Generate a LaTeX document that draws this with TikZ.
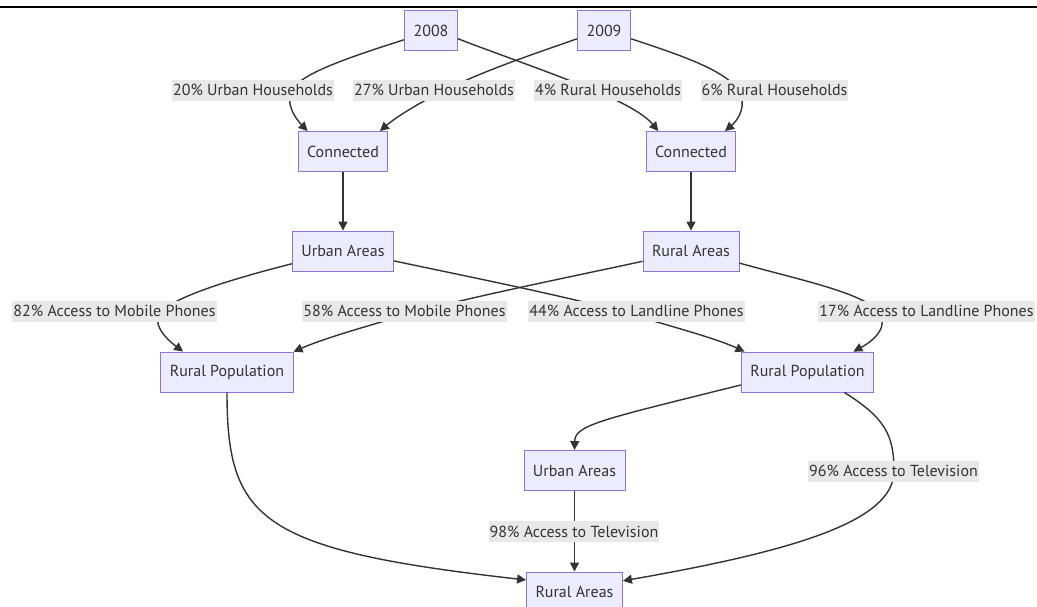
\documentclass[tikz,border=0pt]{standalone}
\usepackage{fontspec}
\setmainfont{PT Sans}
\usetikzlibrary{arrows.meta}
\definecolor{boxfill}{HTML}{ECECFF}
\definecolor{boxline}{HTML}{9370DB}
\definecolor{edgeclr}{HTML}{333333}
\definecolor{lblfill}{HTML}{E8E8E8}
\begin{document}
\begin{tikzpicture}[x=1pt,y=-1pt,>={Triangle[length=9pt,width=9pt]},
  box/.style={draw=boxline,fill=boxfill,line width=0.9pt,text=edgeclr,
    minimum height=40pt,inner xsep=9pt,font=\fontsize{16}{19}\selectfont},
  lbl/.style={fill=lblfill,text=edgeclr,inner xsep=1pt,inner ysep=0pt,
    minimum height=21pt,font=\fontsize{16}{19}\selectfont},
  link/.style={->,draw=edgeclr,line width=1.4pt}]
   \useasboundingbox (0,0) rectangle (1037,606);
   \draw[line width=1.7pt] (0,7) -- (1037,7);

   \node[box] (y2008) at (431,30.5)  {2008};
   \node[box] (y2009) at (604,30.5)  {2009};
   \node[box] (con1)  at (343,151.5) {Connected};
   \node[box] (con2)  at (691,151.5) {Connected};
   \node[box] (urb1)  at (343,251)   {Urban Areas};
   \node[box] (rur1)  at (691,251)   {Rural Areas};
   \node[box] (pop1)  at (227,372)   {Rural Population};
   \node[box] (pop2)  at (807.5,372) {Rural Population};
   \node[box] (urb2)  at (574.5,470.5) {Urban Areas};
   \node[box] (rur2)  at (574.5,592) {Rural Areas};

   \draw[link] (y2008.199) .. controls (340,60) and (300,75) .. (292,90)
     .. controls (285,103) and (295,118) .. (con1.150);
   \draw[link] (y2008.343) .. controls (500,55) and (550,72) .. (593,90)
     .. controls (625,103) and (645,115) .. (con2.148);
   \draw[link] (y2009.197) .. controls (540,52) and (490,68) .. (445,90)
     .. controls (415,105) and (395,118) .. (con1.29);
   \draw[link] (y2009.343) .. controls (680,55) and (725,70) .. (738,90)
     .. controls (748,105) and (738,120) .. (con2.31);
   \draw[link] (con1) -- (urb1);
   \draw[link] (con2) -- (rur1);
   \draw[link] (urb1.194) .. controls (220,282) and (175,298) .. (162,311)
     .. controls (150,322) and (165,338) .. (pop1.155);
   \draw[link] (urb1.349) .. controls (470,277) and (560,295) .. (619,311)
     .. controls (670,326) and (715,338) .. (pop2.162);
   \draw[link] (rur1.192) .. controls (570,277) and (480,295) .. (420,311)
     .. controls (370,325) and (325,338) .. (pop1.17);
   \draw[link] (rur1.346) .. controls (800,280) and (860,292) .. (878,311)
     .. controls (890,325) and (875,340) .. (pop2.24);
   \draw[link] (pop2.191) .. controls (600,420) and (575,425) .. (urb2.north);
   \draw[link] (pop2.331) .. controls (885,418) and (894,435) .. (894,471)
     .. controls (894,520) and (800,550) .. (rur2.13);
   \draw[link] (urb2) -- (rur2);
   \draw[link] (pop1.south) .. controls (227,520) and (260,550) .. (rur2.166);

   % edge labels
   \node[lbl] (l20) at (253,90)    {20\% Urban Households};
   \node[lbl] (l27) at (434,90)    {27\% Urban Households};
   \node[lbl] (l4)  at (608,90)    {4\% Rural Households};
   \node[lbl] (l6)  at (774.5,90)  {6\% Rural Households};
   \node[lbl] (l82) at (114.5,311) {82\% Access to Mobile Phones};
   \node[lbl] (l58) at (404.5,311) {58\% Access to Mobile Phones};
   \node[lbl] (l44) at (636.5,311) {44\% Access to Landline Phones};
   \node[lbl] (l17) at (926.5,311) {17\% Access to Landline Phones};
   \node[lbl] (l96) at (893.5,471) {96\% Access to Television};
   \node[lbl] (l98) at (574,531.5) {98\% Access to Television};
\end{tikzpicture}
\end{document}
